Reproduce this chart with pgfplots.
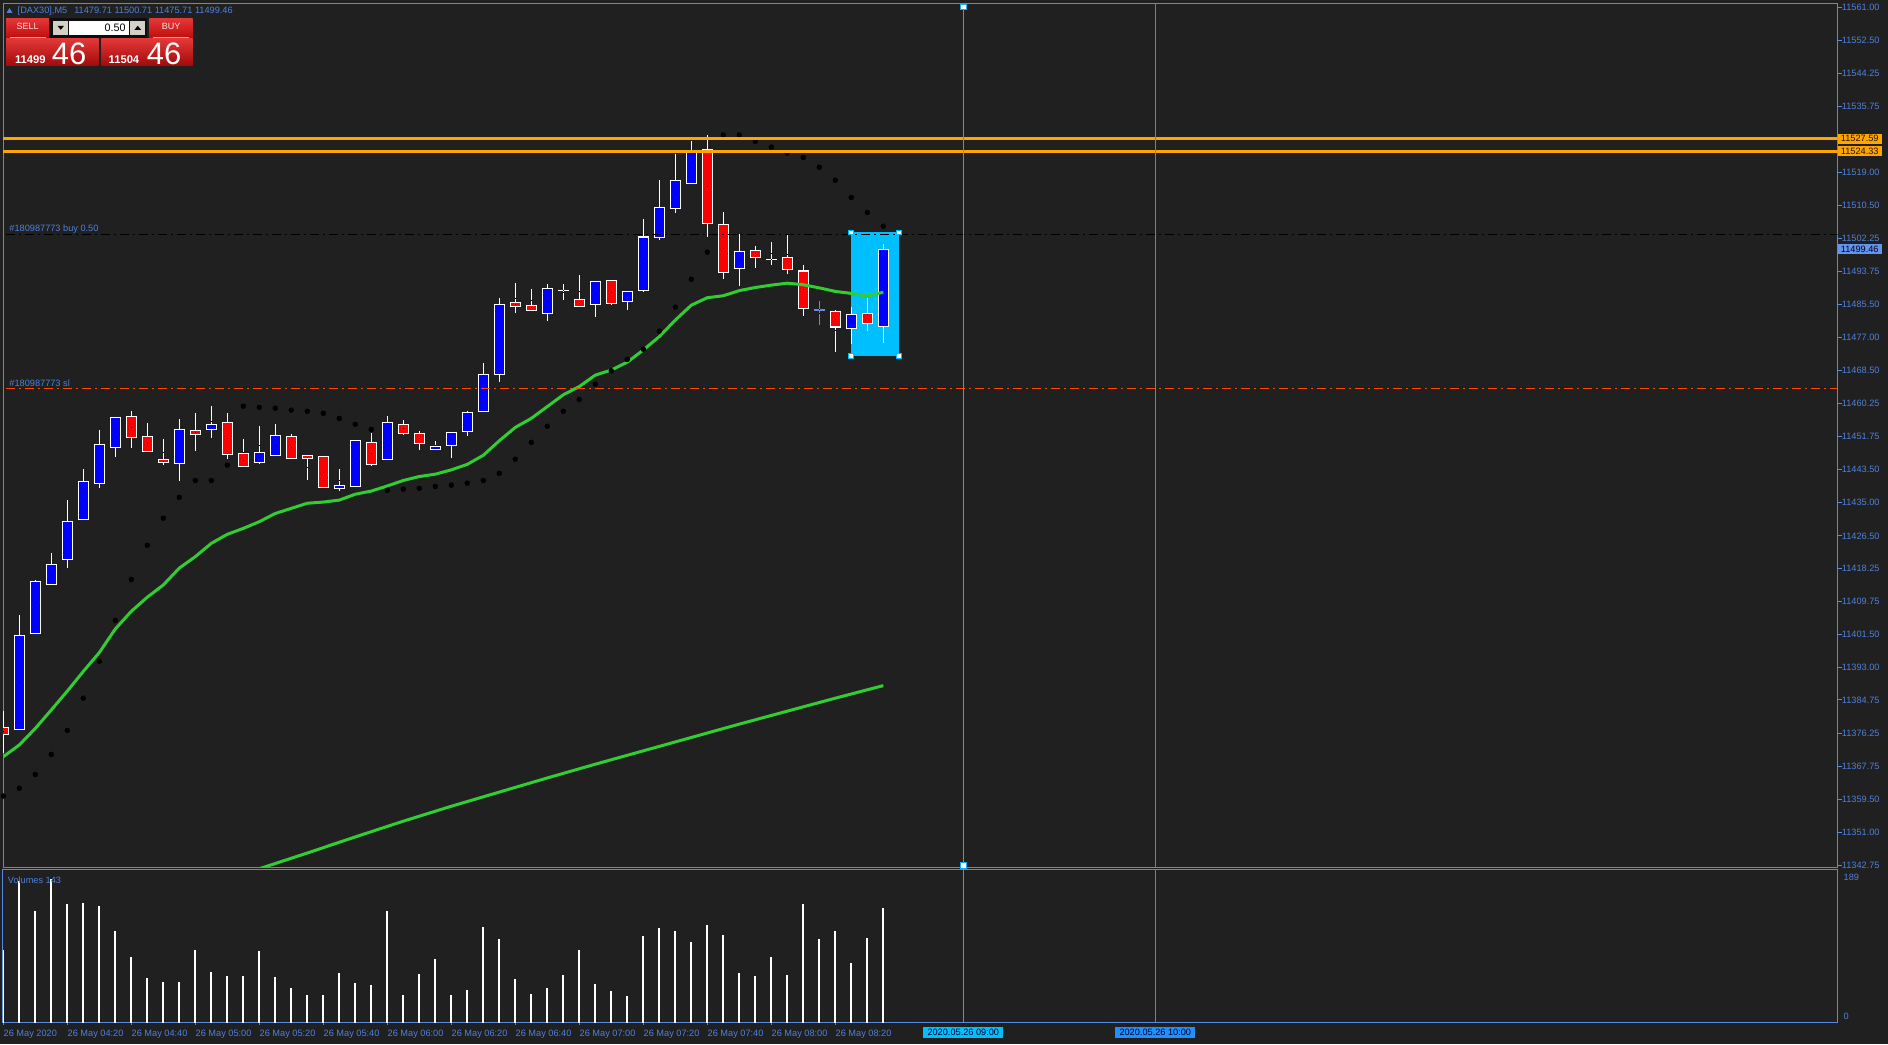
\documentclass[border=0pt]{standalone}
\usepackage{pgfplots}
\pgfplotsset{compat=1.18}
\usepackage{pgfplotstable}
\usepackage{fontspec}
\setmainfont{Liberation Sans}

\definecolor{bg}{RGB}{32,32,32}
\definecolor{mtblue}{RGB}{88,138,228}
\definecolor{mttext}{RGB}{78,128,220}
\definecolor{bull}{RGB}{0,0,255}
\definecolor{bear}{RGB}{255,0,0}
\definecolor{ma}{RGB}{50,205,50}
\definecolor{orln}{RGB}{255,165,0}
\definecolor{slred}{RGB}{255,69,0}
\definecolor{rectc}{RGB}{0,191,255}
\definecolor{vlA}{RGB}{25,170,240}
\definecolor{vlB}{RGB}{65,140,225}
\definecolor{lblB}{RGB}{30,144,255}
\definecolor{curp}{RGB}{100,149,237}
\definecolor{crossc}{RGB}{100,140,225}
\definecolor{btnT}{RGB}{228,56,56}
\definecolor{btnB}{RGB}{190,12,12}
\definecolor{gbtn}{RGB}{212,208,200}

\newcommand{\sm}{\fontsize{4.6}{5.5}\selectfont}

% candles: index (5-minute bars from 04:00), open, high, low, close
\pgfplotstableread{
i o h l c
1 11377.3 11406.4 11377.3 11401.2
2 11401.7 11415.3 11401.7 11415.0
3 11414.2 11422.3 11414.2 11419.3
4 11420.5 11435.9 11418.4 11430.2
5 11430.7 11443.5 11430.7 11440.6
6 11439.9 11453.5 11438.8 11449.8
7 11449.0 11456.7 11446.7 11456.7
11 11445.0 11456.3 11440.6 11453.6
13 11453.6 11459.6 11451.5 11454.9
16 11445.2 11454.5 11444.7 11447.8
17 11447.0 11455.0 11447.0 11452.1
21 11438.6 11443.5 11438.0 11439.4
22 11439.1 11450.8 11439.1 11450.8
24 11446.0 11457.0 11446.0 11455.4
27 11448.5 11450.7 11448.5 11449.3
28 11449.6 11452.9 11446.4 11452.9
29 11453.1 11458.5 11452.1 11457.9
30 11458.3 11470.5 11458.3 11467.6
31 11467.6 11487.3 11465.8 11485.4
34 11483.1 11490.6 11481.3 11489.5
37 11485.4 11491.3 11482.3 11491.3
39 11486.2 11488.7 11484.1 11488.7
40 11489.2 11507.1 11488.5 11502.7
41 11502.5 11517.1 11501.7 11510.1
42 11509.9 11523.7 11508.8 11517.0
43 11516.2 11527.0 11516.2 11524.3
46 11494.6 11503.3 11490.2 11498.9
53 11479.3 11484.7 11475.3 11482.9
55 11479.71 11500.71 11475.71 11499.46
}\bulltab

\pgfplotstableread{
i o h l c
0 11377.8 11382.0 11371.3 11375.9
8 11456.9 11458.3 11449.0 11451.6
9 11451.8 11455.2 11448.0 11448.0
10 11446.0 11451.2 11444.6 11445.2
12 11453.4 11457.8 11448.2 11452.4
14 11455.4 11457.8 11446.2 11447.3
15 11447.5 11451.2 11444.2 11444.2
18 11451.8 11452.4 11446.2 11446.2
19 11446.9 11446.9 11440.9 11446.2
20 11446.8 11446.9 11438.9 11438.9
23 11450.3 11452.7 11444.4 11444.7
25 11454.9 11456.0 11452.1 11452.6
26 11452.6 11453.4 11448.5 11450.1
32 11485.9 11490.9 11483.1 11484.9
33 11485.2 11489.3 11483.9 11483.9
36 11486.7 11492.9 11484.9 11484.9
38 11491.5 11491.8 11485.4 11485.7
44 11524.9 11528.5 11502.6 11506.0
45 11505.8 11508.9 11492.0 11493.6
47 11499.2 11500.3 11494.8 11497.4
49 11497.4 11503.1 11493.2 11494.3
50 11494.0 11495.6 11482.5 11484.4
52 11483.7 11484.2 11473.4 11479.8
54 11483.1 11487.0 11478.7 11480.6
}\beartab

\pgfplotstableread{
i o h l c
35 11489.1 11490.6 11486.4 11489.1
48 11497.0 11501.5 11495.5 11497.0
}\dojitab

\pgfplotstableread{
i o h l c
51 11484.15 11486.3 11480.0 11484.15
}\crosstab

% indicators: fast moving average and parabolic SAR
\pgfplotstableread{
i ma sar
0 11370.3 11360.3
1 11373.3 11362.3
2 11377.5 11365.8
3 11382.2 11370.9
4 11387.0 11377.0
5 11392.0 11385.2
6 11396.8 11394.6
7 11402.8 11405.0
8 11407.3 11415.4
9 11410.9 11424.1
10 11414.0 11431.0
11 11418.3 11436.3
12 11421.2 11440.6
13 11424.6 11440.6
14 11426.9 11444.5
15 11428.4 11459.5
16 11430.1 11459.2
17 11432.2 11459.0
18 11433.5 11458.5
19 11434.8 11458.2
20 11435.1 11457.7
21 11435.6 11456.4
22 11437.1 11454.9
23 11437.9 11453.6
24 11439.2 11438.1
25 11440.6 11438.4
26 11441.6 11438.6
27 11442.2 11439.1
28 11443.3 11439.4
29 11444.7 11439.9
30 11447.0 11440.6
31 11450.7 11442.4
32 11454.1 11446.0
33 11456.4 11450.3
34 11459.4 11454.4
35 11462.4 11458.2
36 11464.5 11461.2
37 11467.4 11465.1
38 11468.7 11468.5
39 11470.7 11471.4
40 11473.8 11474.0
41 11477.2 11478.6
42 11481.4 11484.7
43 11485.2 11491.8
44 11487.1 11498.7
45 11487.6 11528.5
46 11488.9 11528.5
47 11489.7 11526.9
48 11490.3 11525.4
49 11490.8 11523.9
50 11490.4 11522.8
51 11489.6 11520.3
52 11488.7 11517.0
53 11488.2 11512.6
54 11487.5 11508.8
55 11488.5 11505.3
}\indtab

% slow moving average
\pgfplotstableread{
i ma
16 11341.8
19 11345.8
22 11349.9
25 11353.9
28 11357.7
31 11361.3
34 11364.9
37 11368.4
40 11371.8
43 11375.2
46 11378.6
49 11381.9
52 11385.2
55 11388.4
}\slowtab

% volumes
\pgfplotstableread{
i v
0 90
1 177
2 139
3 179
4 148
5 149
6 146
7 114
8 82
9 55
10 50
11 50
12 90
13 63
14 58
15 58
16 89
17 57
18 43
19 34
20 34
21 62
22 49
23 47
24 139
25 34
26 60
27 79
28 34
29 40
30 119
31 104
32 54
33 35
34 43
35 59
36 90
37 48
38 39
39 33
40 108
41 118
42 114
43 100
44 122
45 109
46 62
47 58
48 82
49 59
50 148
51 104
52 114
53 74
54 106
55 143
}\voltab

\pgfplotsset{
  wick/.style={only marks, mark=*, mark size=0pt,
    mark options={draw=none, fill=none, line width=0pt}, forget plot,
    error bars/.cd, y dir=both, y explicit, error mark=none,
    error bar style={solid, line width=0.6pt, draw=#1}},
  body/.style 2 args={only marks, mark=*, mark size=0pt,
    mark options={draw=none, fill=none, line width=0pt}, forget plot,
    error bars/.cd, y dir=both, y explicit, error mark=none,
    error bar style={solid, line width=#2, draw=#1}},
}

\newcommand{\candlewicks}[2]{%
  \addplot[wick=#2] table[x=i, y expr={(\thisrow{h}+\thisrow{l})/2},
    y error expr={(\thisrow{h}-\thisrow{l})/2}] {#1};}
\newcommand{\candleouter}[2]{%
  \addplot[body={#2}{5.2pt}] table[x=i, y expr={(\thisrow{o}+\thisrow{c})/2},
    y error expr={abs(\thisrow{c}-\thisrow{o})/2+0.13}] {#1};}
\newcommand{\candleinner}[2]{%
  \addplot[body={#2}{4.2pt}] table[x=i, y expr={(\thisrow{o}+\thisrow{c})/2},
    y error expr={max(abs(\thisrow{c}-\thisrow{o})/2-0.13,0)}] {#1};}

\begin{document}
\begin{tikzpicture}
\useasboundingbox (0,0) rectangle (944pt,522pt);
\fill[bg] (0,0) rectangle (944pt,522pt);

%================ main price panel =================
\begin{axis}[
  at={(1.5pt,88pt)}, anchor=south west,
  width=917.25pt, height=432pt, scale only axis,
  xmin=-0.01875, xmax=114.6375, ymin=11341.99, ymax=11561.84,
  axis line style={draw=mtblue, line width=0.5pt},
  xtick=\empty, scaled y ticks=false, scaled x ticks=false,
  ytick={11561,11552.5,11544.25,11535.75,11519,11510.5,11502.25,11493.75,11485.5,11477,11468.5,11460.25,11451.75,11443.5,11435,11426.5,11418.25,11409.75,11401.5,11393,11384.75,11376.25,11367.75,11359.5,11351,11342.75},
  yticklabels={11561.00,11552.50,11544.25,11535.75,11519.00,11510.50,11502.25,11493.75,11485.50,11477.00,11468.50,11460.25,11451.75,11443.50,11435.00,11426.50,11418.25,11409.75,11401.50,11393.00,11384.75,11376.25,11367.75,11359.50,11351.00,11342.75},
  ytick pos=right, yticklabel pos=right,
  tick align=outside, major tick length=2pt,
  tick style={draw=mtblue, line width=0.5pt},
  yticklabel style={font=\sm, text=mttext, anchor=west, inner sep=0pt},
  clip mode=individual,
]
% selection rectangle
\addplot[fill=rectc, draw=none, forget plot] coordinates {(53,11472.2) (56,11472.2) (56,11503.7) (53,11503.7)} -- cycle;

% candles
\candlewicks{\bulltab}{white}
\candlewicks{\beartab}{white}
\candlewicks{\dojitab}{white}
\candlewicks{\crosstab}{crossc}
\candleouter{\bulltab}{white}
\candleouter{\beartab}{white}
\candleouter{\dojitab}{white}
\candleouter{\crosstab}{crossc}
\candleinner{\bulltab}{bull}
\candleinner{\beartab}{bear}

% moving averages
\addplot[ma, line width=1.5pt, mark=none] table[x=i, y=ma] {\slowtab};
\addplot[ma, line width=1.5pt, mark=none] table[x=i, y=ma] {\indtab};
% parabolic SAR
\addplot[only marks, mark=*, mark size=1.15pt, black] table[x=i, y=sar] {\indtab};

% horizontal levels
\addplot[orln, line width=1.5pt] coordinates {(-1,11527.59) (120,11527.59)};
\addplot[orln, line width=1.5pt] coordinates {(-1,11524.33) (120,11524.33)};
\addplot[black, line width=0.6pt, dash pattern=on 4.5pt off 2pt on 1pt off 2pt] coordinates {(-1,11503.2) (120,11503.2)};
\addplot[slred, line width=0.6pt, dash pattern=on 4.5pt off 2pt on 1pt off 2pt] coordinates {(-1,11464.05) (120,11464.05)};

% vertical time lines
\addplot[vlA, line width=0.7pt] coordinates {(60,11300) (60,11600)};
\addplot[vlB, line width=0.7pt] coordinates {(72,11300) (72,11600)};
\addplot[only marks, mark=square*, mark size=1.4pt, mark options={fill=white, draw=vlA, line width=0.5pt}] coordinates {(60,11561.1) (60,11342.6)};
\addplot[only marks, mark=square*, mark size=1.2pt, mark options={fill=white, draw=rectc, line width=0.5pt}] coordinates {(53,11472.2) (56,11472.2) (53,11503.7) (56,11503.7)};

% labels
\node[anchor=base west, inner sep=0pt, font=\sm, text=mttext, yshift=1.35pt] at (axis cs:0.36,11503.2) {\#180987773 buy 0.50};
\node[anchor=base west, inner sep=0pt, font=\sm, text=mttext, yshift=1.15pt] at (axis cs:0.36,11464.05) {\#180987773 sl};
\node[anchor=west, fill=orln, text=black!85!orange, font=\sm, inner xsep=1.5pt, inner ysep=0.85pt, text height=3.3pt, text depth=0pt] at (axis cs:114.6375,11527.59) {11527.59};
\node[anchor=west, fill=orln, text=black!85!orange, font=\sm, inner xsep=1.5pt, inner ysep=0.85pt, text height=3.3pt, text depth=0pt] at (axis cs:114.6375,11524.33) {11524.33};
\node[anchor=west, fill=curp, text=black!85!blue, font=\sm, inner xsep=1.5pt, inner ysep=0.85pt, text height=3.3pt, text depth=0pt] at (axis cs:114.6375,11499.46) {11499.46};
\end{axis}

%================ volume panel =================
\begin{axis}[
  at={(1.5pt,10.75pt)}, anchor=south west,
  width=917.25pt, height=76.25pt, scale only axis,
  xmin=-0.01875, xmax=114.6375, ymin=0, ymax=190.6,
  axis line style={draw=mtblue, line width=0.5pt},
  ytick=\empty, scaled x ticks=false, scaled y ticks=false,
  xtick={0,4,8,12,16,20,24,28,32,36,40,44,48,52},
  xticklabels={26 May 2020,26 May 04:20,26 May 04:40,26 May 05:00,26 May 05:20,26 May 05:40,26 May 06:00,26 May 06:20,26 May 06:40,26 May 07:00,26 May 07:20,26 May 07:40,26 May 08:00,26 May 08:20},
  xtick pos=bottom, tick align=outside, major tick length=1.4pt,
  tick style={draw=mtblue, line width=0.5pt},
  xticklabel style={font=\sm, text=mttext, anchor=north west, inner sep=0pt, yshift=-2.4pt},
  clip mode=individual,
]
\addplot[ycomb, white, line width=0.9pt, mark=none] table[x=i, y=v] {\voltab};
\addplot[vlA, line width=0.7pt] coordinates {(60,-10) (60,300)};
\addplot[vlB, line width=0.7pt] coordinates {(72,-10) (72,300)};
\node[anchor=base west, inner sep=0pt, font=\sm, text=mttext, xshift=2.25pt, yshift=-6.65pt] at (rel axis cs:0,1) {Volumes 143};
\node[anchor=base west, inner sep=0pt, font=\sm, text=mttext, xshift=2.9pt, yshift=-5.4pt] at (rel axis cs:1,1) {189};
\node[anchor=base west, inner sep=0pt, font=\sm, text=mttext, xshift=2.9pt, yshift=1.6pt] at (rel axis cs:1,0) {0};
\node[fill=rectc, text=black!85!blue, font=\sm, minimum width=40pt, minimum height=5.5pt, inner sep=0pt, yshift=-4.85pt] at (axis cs:60,0) {2020.05.26 09:00};
\node[fill=lblB, text=black!85!blue, font=\sm, minimum width=40pt, minimum height=5.5pt, inner sep=0pt, yshift=-4.85pt] at (axis cs:72,0) {2020.05.26 10:00};
\end{axis}

%================ header and one-click trading panel =================
\begin{scope}[x=0.5pt,y=0.5pt]
\fill[mttext] (6.5,1031) -- (12.5,1031) -- (9.5,1036) -- cycle;
\node[anchor=west, inner sep=0pt, font=\sm, text=mttext] at (17.3,1033.3) {[DAX30],M5\hspace{3.5pt}11479.71 11500.71 11475.71 11499.46};
% SELL / BUY buttons
\shade[top color=btnT, bottom color=btnB] (6,1005.7) rectangle (49.3,1025.7);
\shade[top color=btnT, bottom color=btnB] (149.3,1005.7) rectangle (192.7,1025.7);
\draw[red!40!white, line width=0.4pt] (10,1007) -- (46,1007);
\draw[red!40!white, line width=0.4pt] (153,1007) -- (189,1007);
\node[font=\fontsize{4.5}{5}\selectfont, text=red!12!white, inner sep=0pt] at (27.6,1017.7) {SELL};
\node[font=\fontsize{4.5}{5}\selectfont, text=red!12!white, inner sep=0pt] at (171,1017.7) {BUY};
% lot field
\fill[black!95] (49.3,1005.7) rectangle (147.3,1025.7);
\fill[gbtn] (53.3,1009) rectangle (68.3,1023.3);
\fill[white] (69.3,1009) rectangle (129.3,1023.3);
\fill[gbtn] (130.3,1009) rectangle (145.3,1023.3);
\fill[black] (57.5,1018.2) -- (64,1018.2) -- (60.75,1014.2) -- cycle;
\fill[black] (134.5,1014.2) -- (141,1014.2) -- (137.75,1018.2) -- cycle;
\node[anchor=east, font=\fontsize{5.4}{6}\selectfont, text=black, inner sep=0pt] at (126,1016.5) {0.50};
% price boxes
\shade[top color=btnT, bottom color=btnB!85!black] (6,978.3) rectangle (98.7,1005.7);
\shade[top color=btnT, bottom color=btnB!85!black] (101.3,978.3) rectangle (192.7,1005.7);
\node[anchor=base west, font=\fontsize{5.6}{6}\selectfont\bfseries, text=white, inner sep=0pt] at (14.7,980.5) {11499};
\node[anchor=base west, font=\fontsize{15.5}{16}\selectfont, text=white, inner sep=0pt] at (51.5,979.5) {46};
\node[anchor=base west, font=\fontsize{5.6}{6}\selectfont\bfseries, text=white, inner sep=0pt] at (108.3,980.5) {11504};
\node[anchor=base west, font=\fontsize{15.5}{16}\selectfont, text=white, inner sep=0pt] at (146.5,979.5) {46};
\end{scope}
\end{tikzpicture}
\end{document}
